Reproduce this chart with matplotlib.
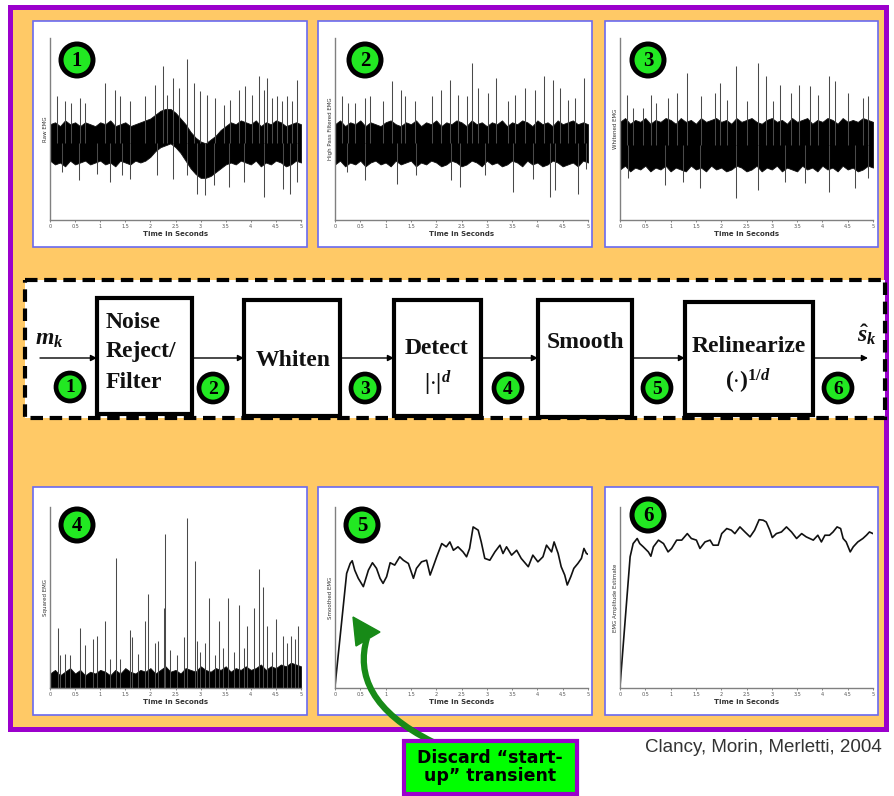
import matplotlib
matplotlib.use('Agg')
import matplotlib.pyplot as plt
from matplotlib.patches import Rectangle, Circle, Polygon, PathPatch
from matplotlib.path import Path
import numpy as np

# figure size in pixels, drawing done in pixel coords
W, H = 894, 796

plt.rcParams['mathtext.fontset'] = 'custom'
plt.rcParams['mathtext.rm'] = 'Liberation Serif:bold'
plt.rcParams['mathtext.it'] = 'Liberation Serif:italic:bold'
plt.rcParams['mathtext.bf'] = 'Liberation Serif:bold'

# ---------------- data ----------------
tick_pos = [0, 0.5, 1, 1.5, 2, 2.5, 3, 3.5, 4, 4.5, 5]
tick_lbl = ['0', '0.5', '1', '1.5', '2', '2.5', '3', '3.5', '4', '4.5', '5']
t_grid = np.round(np.arange(0, 5.01, 0.1), 1)

y_labels = ['Raw EMG', 'High Pass Filtered EMG', 'Whitened EMG',
            'Squared EMG', 'Smoothed EMG', 'EMG Amplitude Estimate']
stages = ['1', '2', '3', '4', '5', '6']

# panel 1 - raw EMG (band edges + spikes)
hi1 = [1.0, 1.1, 0.9, 1.2, 1.0, 1.1, 0.9, 1.1, 1.0, 0.9, 1.1, 1.0, 1.2, 0.9, 1.0, 1.1, 0.9, 1.0, 1.1, 1.2,
       1.3, 1.5, 1.7, 1.8, 1.8, 1.6, 1.3, 1.0, 0.6, 0.3, 0.1, 0.0, 0.2, 0.4, 0.7, 0.9, 1.1, 1.0, 1.2, 1.1,
       1.0, 1.2, 0.9, 1.1, 1.0, 1.2, 1.1, 0.9, 1.0, 1.1, 1.0]
lo1 = [-0.9, -1.1, -1.0, -1.2, -0.9, -1.1, -1.0, -0.9, -1.1, -1.0, -0.9, -1.1, -1.0, -1.2, -0.9, -1.0, -1.1, -0.9, -1.0, -0.9,
       -0.7, -0.4, -0.2, -0.1, 0.0, -0.2, -0.5, -0.9, -1.3, -1.6, -1.8, -1.8, -1.7, -1.5, -1.3, -1.1, -1.0, -1.1, -0.9, -1.0,
       -1.1, -0.9, -1.2, -1.0, -1.1, -0.9, -1.0, -1.2, -1.1, -0.9, -1.0]
up1_t = [0.13, 0.30, 0.41, 0.60, 0.70, 1.10, 1.30, 1.40, 1.60, 1.89, 2.09, 2.26, 2.33, 2.46, 2.56, 2.73, 2.86,
         2.99, 3.13, 3.29, 3.46, 3.59, 3.76, 3.89, 4.02, 4.16, 4.26, 4.32, 4.42, 4.52, 4.62, 4.72, 4.82, 4.92]
up1_v = [2.46, 2.19, 2.10, 2.37, 2.10, 3.16, 2.81, 2.46, 2.19, 2.46, 3.07, 4.04, 2.54, 3.42, 2.89, 4.39, 3.16,
         2.72, 2.54, 2.37, 2.02, 2.28, 2.81, 2.98, 2.54, 3.51, 2.81, 3.42, 2.37, 2.46, 2.19, 2.46, 2.19, 3.33]
dn1_t = [0.23, 0.57, 0.93, 1.20, 1.43, 1.60, 2.13, 2.46, 2.73, 2.93, 3.09, 3.26, 3.56, 3.86, 4.26, 4.65, 4.79, 4.92]
dn1_v = [-1.49, -1.93, -1.58, -2.02, -1.67, -1.84, -1.67, -1.84, -1.67, -2.63, -2.72, -2.19, -2.28, -2.02, -2.81,
         -2.37, -2.63, -2.02]

# panel 2 - high pass filtered
hi2 = [1.0, 1.2, 0.9, 1.1, 1.0, 1.2, 0.9, 1.1, 1.0, 0.9, 1.1, 1.2, 1.0, 0.9, 1.1, 1.0, 1.2, 0.9, 1.1, 1.0,
       1.2, 0.9, 1.1, 1.0, 1.2, 1.1, 0.9, 1.2, 1.0, 1.1, 0.9, 1.1, 1.0, 1.2, 0.9, 1.1, 1.0, 1.2, 1.1, 0.9,
       1.2, 1.0, 1.1, 0.9, 1.2, 1.0, 1.1, 1.2, 1.0, 1.1, 1.0]
lo2 = [-1.1, -0.9, -1.2, -1.0, -1.1, -0.9, -1.2, -1.0, -0.9, -1.1, -1.0, -1.2, -0.9, -1.1, -1.0, -0.9, -1.2, -1.0, -1.1, -0.9,
       -1.0, -1.2, -1.1, -0.9, -1.0, -1.2, -1.1, -0.9, -1.0, -1.2, -0.9, -1.1, -1.0, -1.2, -1.1, -0.9, -1.0, -1.2, -0.9, -1.1,
       -1.0, -1.2, -1.1, -0.9, -1.0, -1.2, -1.1, -1.0, -1.2, -0.9, -1.0]
up2_t = [0.13, 0.26, 0.39, 0.59, 0.69, 0.95, 1.12, 1.30, 1.38, 1.58, 1.91, 2.09, 2.27, 2.43, 2.60, 2.71, 2.83,
         3.03, 3.18, 3.42, 3.55, 3.75, 3.95, 4.13, 4.31, 4.44, 4.61, 4.75, 4.92]
up2_v = [2.46, 2.11, 2.11, 2.37, 2.46, 2.19, 3.25, 2.81, 2.46, 2.19, 2.46, 2.81, 3.33, 2.54, 2.46, 4.21, 2.89,
         2.63, 3.42, 2.19, 2.54, 2.89, 2.81, 3.51, 3.33, 2.89, 2.28, 2.37, 3.42]
dn2_t = [0.23, 0.59, 1.22, 1.61, 2.30, 2.47, 2.96, 3.52, 3.91, 4.24, 4.34, 4.80, 4.97]
dn2_v = [-1.49, -1.93, -2.11, -1.67, -1.93, -2.28, -1.67, -2.54, -1.84, -2.81, -2.46, -2.63, -1.32]

# panel 3 - whitened
hi3 = [1.2, 1.4, 1.1, 1.3, 1.2, 1.4, 1.1, 1.3, 1.2, 1.4, 1.3, 1.1, 1.4, 1.2, 1.3, 1.1, 1.4, 1.2, 1.3, 1.4,
       1.2, 1.3, 1.1, 1.4, 1.2, 1.3, 1.4, 1.2, 1.1, 1.3, 1.4, 1.2, 1.3, 1.1, 1.4, 1.2, 1.3, 1.4, 1.1, 1.3,
       1.2, 1.4, 1.3, 1.1, 1.4, 1.2, 1.3, 1.2, 1.4, 1.3, 1.2]
lo3 = [-1.3, -1.1, -1.4, -1.2, -1.3, -1.1, -1.4, -1.2, -1.3, -1.1, -1.4, -1.2, -1.3, -1.4, -1.1, -1.3, -1.2, -1.4, -1.1, -1.3,
       -1.2, -1.4, -1.3, -1.1, -1.2, -1.4, -1.3, -1.1, -1.4, -1.2, -1.3, -1.1, -1.4, -1.2, -1.3, -1.4, -1.1, -1.3, -1.2, -1.4,
       -1.1, -1.3, -1.2, -1.4, -1.1, -1.3, -1.2, -1.4, -1.3, -1.1, -1.2]
up3_t = [0.14, 0.26, 0.46, 0.61, 0.72, 0.95, 1.12, 1.33, 1.61, 1.88, 1.97, 2.11, 2.30, 2.50, 2.73, 2.88, 3.03,
         3.16, 3.37, 3.53, 3.75, 3.91, 4.13, 4.24, 4.51, 4.80, 4.90]
up3_v = [2.63, 1.93, 1.93, 2.63, 2.19, 2.46, 2.72, 3.77, 2.54, 2.72, 3.25, 2.37, 4.12, 2.28, 4.30, 3.60, 2.28,
         3.16, 2.72, 3.16, 3.07, 2.63, 3.60, 3.33, 2.72, 2.46, 2.54]
dn3_t = [0.16, 0.88, 1.25, 1.58, 2.29, 2.73, 3.26, 3.65, 4.14, 4.64, 4.90]
dn3_v = [-1.75, -2.11, -1.93, -2.28, -2.81, -2.37, -1.93, -2.02, -2.46, -2.28, -1.75]

# panel 4 - squared EMG (fraction of axis height)
base4 = [0.08, 0.10, 0.07, 0.09, 0.11, 0.08, 0.10, 0.07, 0.09, 0.08, 0.10, 0.09, 0.07, 0.10, 0.08, 0.11, 0.09, 0.08, 0.10, 0.09,
         0.11, 0.08, 0.10, 0.12, 0.09, 0.10, 0.08, 0.11, 0.10, 0.09, 0.12, 0.10, 0.09, 0.11, 0.10, 0.12, 0.09, 0.11, 0.10, 0.12,
         0.10, 0.11, 0.13, 0.10, 0.12, 0.11, 0.13, 0.12, 0.14, 0.13, 0.12]
sp4_t = [0.15, 0.20, 0.30, 0.39, 0.59, 0.70, 0.86, 0.93, 1.10, 1.20, 1.32, 1.40, 1.60, 1.64, 1.76, 1.89, 1.96,
         2.09, 2.16, 2.27, 2.29, 2.39, 2.53, 2.67, 2.73, 2.88, 2.93, 2.99, 3.09, 3.17, 3.29, 3.37, 3.44, 3.54,
         3.66, 3.76, 3.86, 3.92, 4.06, 4.16, 4.24, 4.32, 4.42, 4.51, 4.65, 4.72, 4.81, 4.89, 4.94]
sp4_v = [0.33, 0.18, 0.19, 0.18, 0.33, 0.24, 0.27, 0.29, 0.37, 0.16, 0.72, 0.16, 0.32, 0.28, 0.19, 0.37, 0.52,
         0.25, 0.26, 0.44, 0.85, 0.21, 0.18, 0.28, 0.94, 0.70, 0.26, 0.20, 0.25, 0.50, 0.18, 0.37, 0.22, 0.50,
         0.20, 0.46, 0.22, 0.34, 0.44, 0.66, 0.56, 0.34, 0.20, 0.38, 0.29, 0.25, 0.29, 0.27, 0.34]

# panel 5 - smoothed
t5 = [0, 0.23, 0.30, 0.34, 0.39, 0.46, 0.56, 0.59, 0.66, 0.74, 0.82, 0.89, 0.95, 1.02, 1.09, 1.18, 1.28, 1.35,
      1.45, 1.55, 1.61, 1.71, 1.81, 1.88, 1.94, 2.01, 2.11, 2.20, 2.27, 2.34, 2.43, 2.53, 2.60, 2.66, 2.73, 2.83,
      2.89, 2.96, 3.06, 3.16, 3.26, 3.32, 3.39, 3.49, 3.59, 3.68, 3.82, 3.91, 4.01, 4.11, 4.18, 4.28, 4.33, 4.41,
      4.47, 4.54, 4.59, 4.66, 4.72, 4.80, 4.87, 4.92, 4.97, 5.00]
v5 = [0.009, 0.633, 0.688, 0.703, 0.651, 0.606, 0.560, 0.587, 0.651, 0.692, 0.661, 0.606, 0.578, 0.615, 0.692,
      0.679, 0.725, 0.706, 0.688, 0.606, 0.661, 0.697, 0.706, 0.624, 0.670, 0.725, 0.798, 0.780, 0.807, 0.761,
      0.780, 0.752, 0.725, 0.771, 0.890, 0.872, 0.807, 0.716, 0.706, 0.752, 0.789, 0.743, 0.780, 0.734, 0.761,
      0.716, 0.670, 0.734, 0.697, 0.725, 0.789, 0.752, 0.807, 0.743, 0.670, 0.624, 0.569, 0.615, 0.661, 0.688,
      0.716, 0.771, 0.743, 0.739]

# panel 6 - relinearized amplitude estimate
t6 = [0, 0.20, 0.26, 0.34, 0.39, 0.46, 0.56, 0.61, 0.66, 0.76, 0.86, 0.95, 1.02, 1.12, 1.22, 1.33, 1.41, 1.51,
      1.58, 1.68, 1.78, 1.84, 1.94, 2.01, 2.11, 2.20, 2.27, 2.37, 2.47, 2.57, 2.66, 2.75, 2.83, 2.89, 2.96, 3.01,
      3.09, 3.19, 3.29, 3.39, 3.49, 3.59, 3.68, 3.82, 3.91, 3.98, 4.05, 4.14, 4.21, 4.29, 4.36, 4.41, 4.47, 4.55,
      4.61, 4.70, 4.80, 4.87, 4.93, 5.00]
v6 = [0.009, 0.725, 0.798, 0.826, 0.798, 0.780, 0.752, 0.728, 0.780, 0.817, 0.798, 0.752, 0.771, 0.817, 0.817,
      0.853, 0.826, 0.817, 0.771, 0.807, 0.817, 0.789, 0.789, 0.853, 0.881, 0.872, 0.853, 0.890, 0.862, 0.835,
      0.872, 0.930, 0.927, 0.917, 0.872, 0.831, 0.853, 0.862, 0.890, 0.862, 0.826, 0.853, 0.835, 0.817, 0.844,
      0.807, 0.844, 0.844, 0.862, 0.890, 0.881, 0.826, 0.807, 0.752, 0.780, 0.807, 0.826, 0.844, 0.862, 0.853]

# block diagram
block_texts = ['Noise\nReject/\nFilter', 'Whiten', 'Detect', 'Smooth', 'Relinearize']
block_sub = ['', '', r'$|{\cdot}|^d$', '', r'$(\cdot)^{1/d}$']
caption = 'Clancy, Morin, Merletti, 2004'
note = 'Discard \u201cstart-\nup\u201d transient'

ORANGE = '#FFC966'
PURPLE = '#9B00CC'
GREEN = '#22E822'
DKGREEN = '#178A17'
BLUE = '#6A6AF0'

fig = plt.figure(figsize=(W / 100, H / 100), dpi=100)

# background layer in pixel coords
bg = fig.add_axes([0, 0, 1, 1])
bg.set_xlim(0, W)
bg.set_ylim(H, 0)
bg.axis('off')

bg.add_patch(Rectangle((10, 7), 876, 722, fc=ORANGE, ec=PURPLE, lw=3.6))

# white panel frames
frames = [(33, 21, 274, 226), (318, 21, 274, 226), (605, 21, 273, 226),
          (33, 487, 274, 228), (318, 487, 274, 228), (605, 487, 273, 228)]
for (x, y, w, h) in frames:
    bg.add_patch(Rectangle((x, y), w, h, fc='white', ec=BLUE, lw=1.2))

# dashed diagram box
bg.add_patch(Rectangle((25, 280), 860, 138, fc='white', ec='black', lw=3,
                       linestyle=(0, (3, 1.6))))

boxes = [(97, 298, 95, 116), (244, 300, 96, 116), (394, 300, 87, 116),
         (538, 300, 94, 117), (685, 302, 128, 113)]
for (x, y, w, h) in boxes:
    bg.add_patch(Rectangle((x, y), w, h, fc='white', ec='black', lw=3))

# arrows between blocks
arrow_x = [(40, 97), (192, 244), (340, 394), (481, 538), (632, 685), (813, 868)]
for (xa, xb) in arrow_x:
    bg.annotate('', xy=(xb, 358), xytext=(xa, 358),
                arrowprops=dict(arrowstyle='-|>', color='black', lw=1,
                                mutation_scale=9, shrinkA=0, shrinkB=0))

serif = 'Liberation Serif'
bg.text(106, 322, 'Noise', fontsize=17, fontweight='bold', family=serif, va='center', ha='left', color='#111')
bg.text(106, 352, 'Reject/', fontsize=17, fontweight='bold', family=serif, va='center', ha='left', color='#111')
bg.text(106, 382, 'Filter', fontsize=17, fontweight='bold', family=serif, va='center', ha='left', color='#111')
bg.text(293, 360, block_texts[1], fontsize=17, fontweight='bold', family=serif, va='center', ha='center', color='#111')
bg.text(437, 348, block_texts[2], fontsize=17, fontweight='bold', family=serif, va='center', ha='center', color='#111')
bg.text(438, 383, block_sub[2], fontsize=17, va='center', ha='center', color='#111')
bg.text(585, 342, block_texts[3], fontsize=17, fontweight='bold', family=serif, va='center', ha='center', color='#111')
bg.text(749, 346, block_texts[4], fontsize=17, fontweight='bold', family=serif, va='center', ha='center', color='#111')
bg.text(748, 381, block_sub[4], fontsize=17, va='center', ha='center', color='#111')
bg.text(49, 338, r'$m_k$', fontsize=17, va='center', ha='center', color='#111')
bg.text(867, 335, r'$\hat{s}_k$', fontsize=17, va='center', ha='center', color='#111')


def make_panel(x0, x1, y0, y1, ylab):
    ax = fig.add_axes([x0 / W, 1 - y1 / H, (x1 - x0) / W, (y1 - y0) / H])
    ax.patch.set_visible(False)
    ax.spines['top'].set_visible(False)
    ax.spines['right'].set_visible(False)
    ax.spines['left'].set_color('#808080')
    ax.spines['bottom'].set_color('#808080')
    ax.spines['left'].set_linewidth(1.0)
    ax.spines['bottom'].set_linewidth(1.0)
    ax.set_xlim(0, 5)
    ax.set_xticks(tick_pos)
    ax.set_xticklabels(tick_lbl, fontsize=3.5)
    ax.set_yticks([])
    ax.tick_params(axis='x', length=1.5, width=0.5, pad=1.5, colors='#555555')
    ax.set_xlabel('Time in Seconds', fontsize=5, fontweight='bold', labelpad=1, color='#333333')
    ax.set_ylabel(ylab, fontsize=4, labelpad=1.5, color='#333333')
    return ax


def emg_band(ax, hi, lo, ut, uv, dt, dv):
    ax.vlines(ut, 0, uv, color='#4a4a4a', lw=0.75)
    ax.vlines(dt, 0, dv, color='#4a4a4a', lw=0.75)
    ax.fill_between(t_grid, lo, hi, color='black', lw=0.6, edgecolor='#111111')


ax1 = make_panel(50, 301, 38, 220, y_labels[0])
ax1.set_ylim(-4.0, 5.5)
emg_band(ax1, hi1, lo1, up1_t, up1_v, dn1_t, dn1_v)

ax2 = make_panel(335, 588, 38, 220, y_labels[1])
ax2.set_ylim(-4.0, 5.5)
emg_band(ax2, hi2, lo2, up2_t, up2_v, dn2_t, dn2_v)

ax3 = make_panel(620, 873, 38, 220, y_labels[2])
ax3.set_ylim(-3.95, 5.6)
emg_band(ax3, hi3, lo3, up3_t, up3_v, dn3_t, dn3_v)

ax4 = make_panel(50, 301, 507, 688, y_labels[3])
ax4.set_ylim(0, 1)
ax4.vlines(sp4_t, 0, sp4_v, color='#4a4a4a', lw=0.75)
ax4.fill_between(t_grid, 0, base4, color='black', lw=0.6, edgecolor='#111111')

ax5 = make_panel(335, 588, 507, 688, y_labels[4])
ax5.set_ylim(0, 1)
ax5.plot(t5, v5, color='#111111', lw=1.2)

ax6 = make_panel(620, 873, 507, 688, y_labels[5])
ax6.set_ylim(0, 1)
ax6.plot(t6, v6, color='#111111', lw=1.2)

# overlay layer: numbered markers, green arrow, note, caption
ov = fig.add_axes([0, 0, 1, 1])
ov.set_xlim(0, W)
ov.set_ylim(H, 0)
ov.axis('off')
ov.patch.set_visible(False)

panel_marks = [(77, 60), (365, 60), (648, 60), (77, 525), (362, 525), (648, 515)]
diag_marks = [(70, 387), (213, 388), (365, 388), (508, 388), (657, 388), (838, 388)]
for i, (cx, cy) in enumerate(panel_marks):
    ov.add_patch(Circle((cx, cy), 16, fc=GREEN, ec='black', lw=3.6))
    ov.text(cx, cy + 1, stages[i], fontsize=15, fontweight='bold', family=serif,
            ha='center', va='center', color='black')
for i, (cx, cy) in enumerate(diag_marks):
    ov.add_patch(Circle((cx, cy), 14, fc=GREEN, ec='black', lw=3.4))
    ov.text(cx, cy + 1, stages[i], fontsize=14, fontweight='bold', family=serif,
            ha='center', va='center', color='black')

# curved green arrow
shaft = Path([(433, 742), (372, 712), (356, 675), (367, 638)],
             [Path.MOVETO, Path.CURVE4, Path.CURVE4, Path.CURVE4])
ov.add_patch(PathPatch(shaft, fc='none', ec=DKGREEN, lw=4.5, capstyle='butt'))
ov.add_patch(Polygon([(353, 617), (356, 646), (380, 632)], closed=True, fc=DKGREEN, ec=DKGREEN, lw=1))

ov.add_patch(Rectangle((404, 741), 173, 53, fc='#00FF00', ec=PURPLE, lw=3))
ov.text(490, 767, note, fontsize=12.5, fontweight='bold', family='DejaVu Sans',
        ha='center', va='center', linespacing=1.0, color='black')

ov.text(645, 748, caption, fontsize=13.5, family='Liberation Sans', ha='left', va='center', color='#333333')

fig.savefig('out.png', dpi=100)
